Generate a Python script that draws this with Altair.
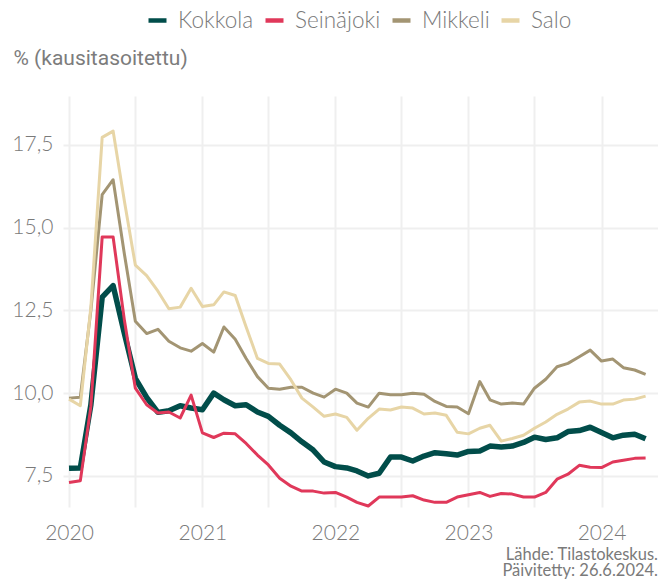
import altair as alt
import pandas as pd

# monthly observations 2020-01 ... 2024-05
months = pd.date_range("2020-01-01", "2024-05-01", freq="MS").strftime("%Y-%m-%dT00:00:00").tolist()

series_names = ["Kokkola", "Seinäjoki", "Mikkeli", "Salo"]

kokkola = [7.73, 7.74, 9.65, 12.9, 13.25, 11.8, 10.45, 9.87, 9.42, 9.47, 9.62, 9.55,
           9.5, 10.0, 9.8, 9.62, 9.65, 9.43, 9.3, 9.03, 8.8, 8.53, 8.28, 7.92,
           7.78, 7.74, 7.65, 7.5, 7.58, 8.07, 8.07, 7.95, 8.1, 8.2, 8.17, 8.13,
           8.24, 8.25, 8.4, 8.37, 8.4, 8.51, 8.67, 8.6, 8.65, 8.84, 8.87, 8.97,
           8.81, 8.65, 8.73, 8.76, 8.62]
seinajoki = [7.3, 7.35, 9.6, 14.72, 14.72, 12.2, 10.15, 9.65, 9.4, 9.43, 9.25, 9.94,
             8.8, 8.66, 8.79, 8.77, 8.48, 8.13, 7.83, 7.43, 7.19, 7.04, 7.04, 6.98,
             7.0, 6.86, 6.7, 6.59, 6.86, 6.86, 6.86, 6.9, 6.77, 6.7, 6.7, 6.86,
             6.93, 7.0, 6.88, 6.97, 6.95, 6.86, 6.86, 7.0, 7.4, 7.55, 7.82, 7.76,
             7.75, 7.92, 7.97, 8.03, 8.04]
mikkeli = [9.85, 9.88, 12.5, 16.0, 16.45, 14.2, 12.17, 11.8, 11.93, 11.57, 11.37, 11.27,
           11.5, 11.24, 12.0, 11.63, 11.05, 10.5, 10.15, 10.12, 10.18, 10.18, 10.0, 9.88,
           10.12, 10.0, 9.7, 9.58, 10.0, 9.95, 9.95, 10.0, 9.97, 9.75, 9.6, 9.58,
           9.38, 10.35, 9.8, 9.67, 9.7, 9.67, 10.15, 10.42, 10.8, 10.9, 11.1, 11.3,
           10.97, 11.03, 10.77, 10.7, 10.57]
salo = [9.82, 9.62, 12.6, 17.73, 17.92, 15.8, 13.87, 13.55, 13.08, 12.55, 12.6, 13.17,
        12.62, 12.67, 13.06, 12.95, 12.0, 11.05, 10.9, 10.88, 10.4, 9.85, 9.58, 9.3,
        9.37, 9.27, 8.88, 9.24, 9.52, 9.49, 9.58, 9.55, 9.37, 9.4, 9.33, 8.82,
        8.77, 8.94, 9.03, 8.55, 8.63, 8.73, 8.94, 9.13, 9.36, 9.52, 9.73, 9.76,
        9.67, 9.67, 9.79, 9.82, 9.91]

y_ticks = [7.5, 10.0, 12.5, 15.0, 17.5]
colors = ["#014D4A", "#E0385A", "#A39573", "#E7D5A6"]
widths = [5.5, 3, 3, 3]

values = {"Kokkola": kokkola, "Seinäjoki": seinajoki, "Mikkeli": mikkeli, "Salo": salo}
rows = []
for name in series_names:
    for m, v in zip(months, values[name]):
        rows.append({"kk": m, "sarja": name, "arvo": v})
df = pd.DataFrame(rows)

grid_dates = [alt.DateTime(year=y, month=m, date=1) for y in range(2020, 2025) for m in (1, 7)]
grid_dates = grid_dates[:-1]

label_color = "#7a7a7a"

x_enc = alt.X(
    "kk:T",
    title=None,
    scale=alt.Scale(domain=["2019-12-15T12:00:00", "2024-06-04T00:00:00"]),
    axis=alt.Axis(
        values=grid_dates,
        labelExpr="month(datum.value) == 0 ? timeFormat(datum.value, '%Y') : ''",
        ticks=False, tickSize=0, domain=False, grid=True,
        gridColor="#EFEFEF", gridWidth=2,
        labelFont="Lato", labelFontSize=21, labelFontWeight=300, labelColor=label_color,
        labelPadding=15, labelFlush=False, labelOverlap=False,
    ),
)
y_enc = alt.Y(
    "arvo:Q",
    scale=alt.Scale(domain=[6.56, 18.98], nice=False, zero=False),
    axis=alt.Axis(
        values=y_ticks,
        labelExpr="replace(format(datum.value, '.1f'), '.', ',')",
        ticks=False, tickSize=0, domain=False, grid=True,
        gridColor="#EFEFEF", gridWidth=2,
        labelFont="Lato", labelFontSize=21, labelFontWeight=300, labelColor=label_color,
        labelPadding=10,
        title="% (kausitasoitettu)", titleAngle=0, titleX=-50, titleY=-32,
        titleAlign="left", titleBaseline="alphabetic",
        titleFont="Roboto", titleFontSize=21, titleFontWeight="normal", titleColor="#7c7c7c",
    ),
)
color_enc = alt.Color(
    "sarja:N",
    scale=alt.Scale(domain=series_names, range=colors),
    legend=alt.Legend(
        title=None, orient="none", direction="horizontal",
        legendX=83, legendY=-87,
        symbolType="stroke", symbolSize=324, symbolStrokeWidth=4.5,
        labelFont="Lato", labelFontSize=22.5, labelFontWeight=300, labelColor=label_color,
        labelOffset=9, columnPadding=2, padding=0,
    ),
)

layers = []
for name, w in zip(series_names, widths):
    layers.append(
        alt.Chart(df)
        .transform_filter(alt.datum.sarja == name)
        .mark_line(strokeWidth=w, strokeJoin="round")
        .encode(x=x_enc, y=y_enc, color=color_enc)
    )

chart = alt.layer(*layers).properties(
    width=595,
    height=411,
    autosize=alt.AutoSizeParams(type="none"),
    padding={"left": 55, "top": 88, "right": 0, "bottom": 72},
    background="white",
    title=alt.TitleParams(
        text=["Lähde: Tilastokeskus.", "Päivitetty: 26.6.2024."],
        orient="bottom", anchor="end", frame="group",
        font="Lato", fontSize=16.5, fontWeight="normal", color=label_color,
        lineHeight=15.5, offset=4,
    ),
).configure_view(strokeWidth=0, stroke="transparent")

chart.save("out.html", embed_options={"renderer": "svg", "actions": False})
